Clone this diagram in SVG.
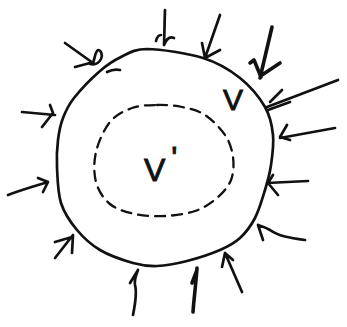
<svg xmlns="http://www.w3.org/2000/svg" width="347" height="327" viewBox="0 0 347 327">
<style>
.ink{fill:none;stroke:#111;stroke-width:2.7;stroke-linecap:round;stroke-linejoin:round}
.heavy{stroke-width:3.6}
.dash{fill:none;stroke:#111;stroke-width:2.3;stroke-dasharray:10 7;stroke-linecap:round}
.lbl{font-family:"Liberation Sans",Arial,sans-serif;fill:#111;stroke:#111;stroke-width:0.9}
</style>
<rect width="347" height="327" fill="#fff"/>
<g id="region-V">
<path class="ink" d="M147,49 C160.7,49.2 187.5,53.2 203,58 C218.5,62.8 229.7,69.8 240,78 C250.3,86.2 259.5,97.5 265,107 C270.5,116.5 272,125.3 273,135 C274,144.7 272.3,155.8 271,165 C269.7,174.2 267.7,181.2 265,190 C262.3,198.8 259.2,210 255,218 C250.8,226 245.8,232.7 240,238 C234.2,243.3 228.8,246.2 220,250 C211.2,253.8 197.5,258.3 187,261 C176.5,263.7 166,265.7 157,266 C148,266.3 142.5,265.7 133,263 C123.5,260.3 109.3,255.5 100,250 C90.7,244.5 83.5,237.8 77,230 C70.5,222.2 64.3,213.5 61,203 C57.7,192.5 57.5,177.5 57,167 C56.5,156.5 57,148.2 58,140 C59,131.8 60.3,125 63,118 C65.7,111 67.8,105.8 74,98 C80.2,90.2 92.2,77.8 100,71 C107.8,64.2 113.2,60.7 121,57 C128.8,53.3 133.3,49.2 147,49 Z"/>
<text class="lbl" x="223" y="110" font-size="30">V</text>
</g>
<g id="region-Vprime">
<path class="dash" d="M157,105 C165.3,104.8 174,105.3 182,107 C190,108.7 197.8,110.3 205,115 C212.2,119.7 220.3,128 225,135 C229.7,142 232,149.5 233,157 C234,164.5 233.7,173.2 231,180 C228.3,186.8 223,192.8 217,198 C211,203.2 203.7,208 195,211 C186.3,214 175,215.5 165,216 C155,216.5 144.2,216 135,214 C125.8,212 116.5,209.3 110,204 C103.5,198.7 98.3,190.7 96,182 C93.7,173.3 93.7,162 96,152 C98.3,142 104,129.3 110,122 C116,114.7 124.2,110.8 132,108 C139.8,105.2 148.7,105.2 157,105 Z"/>
<text class="lbl" x="144" y="181" font-size="32">V<tspan dx="6" dy="-12">'</tspan></text>
</g>
<g id="connectors">
<path class="ink" d="M65,43 L93,63 C95,58 95,52 98,50 C101,50 103,55 101,59 C99,63 95,65 90,64 M75,67 L90,63 M107,72 C111,70 116,69 120,70"/>
<path class="ink" d="M165,10 C164.5,22 164.5,34 164,45 M156,41 C157,37 159,35 161,35 M164,45 C166,40 169,36 174,38"/>
<path class="ink" d="M220,15 L205,58 M202,43 L205,58 L220,50"/>
<path class="ink heavy" d="M272,27 L260,78 M250,63 L254,60 L261,77 M280,63 L262,75"/>
<path class="ink" d="M338,80 L267,107 M290,102 L268,110 M282,90 L270,102"/>
<path class="ink" d="M335,128 L280,138 M287,125 L280,137 L290,140"/>
<path class="ink" d="M22,112 C33,113 44,114 55,115 M50,105 L53,113 L42,127"/>
<path class="ink" d="M8,195 C21,190 35,186 48,182 M38,178 L48,182 L43,192"/>
<path class="ink" d="M55,258 L73,235 M55,242 L72,237 M72,253 L73,235"/>
<path class="ink" d="M133,315 C136,300 137,292 135,285 C134,280 136,275 138,270 M130,283 L138,270"/>
<path class="ink heavy" d="M193,312 C194,298 196,283 197,268 M192,283 L197,270"/>
<path class="ink" d="M242,292 L225,253 M222,267 L225,253 L233,260"/>
<path class="ink" d="M305,240 C290,238 278,236 270,230 C265,227 261,226 258,225 M263,240 L258,225"/>
<path class="ink" d="M308,181 L267,183 M273,175 L268,183 L278,195"/>
</g>
</svg>
